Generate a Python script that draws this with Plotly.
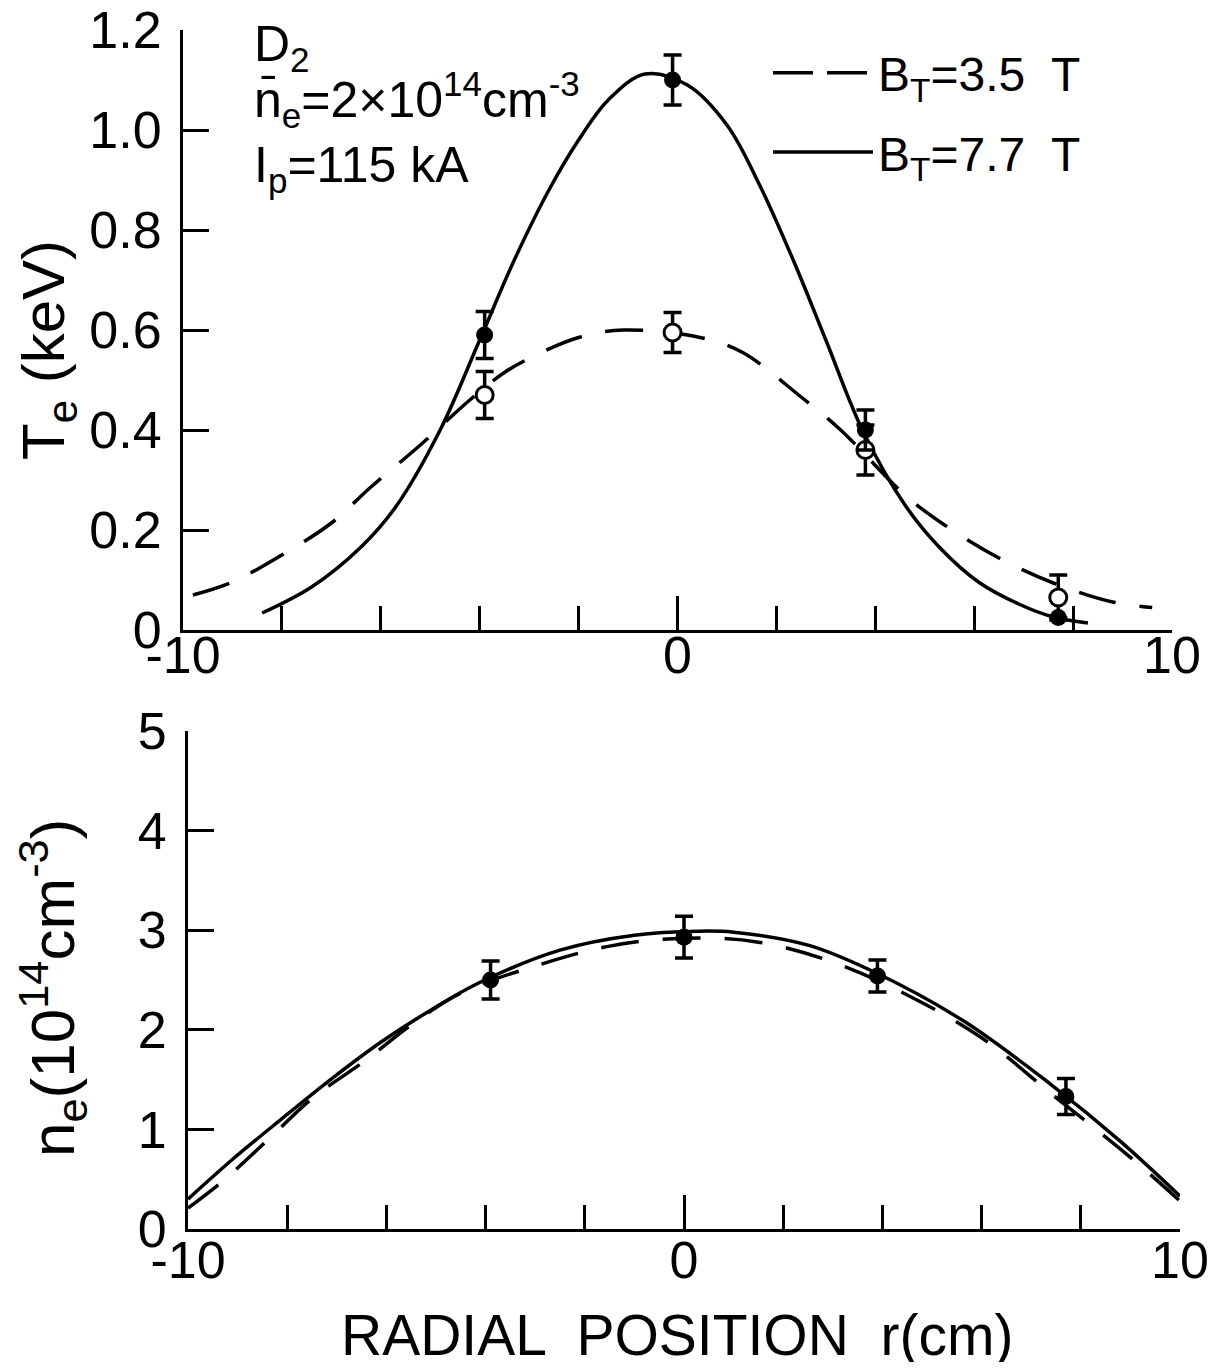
import plotly.graph_objects as go

# ---------------- data ----------------
# Top panel: electron temperature Te (keV)
te_fit_35_r = [-9.8, -9.0, -8.0, -7.0, -6.2, -5.2, -4.2, -3.5, -2.9, -2.0, -1.1, 0.5, 1.3, 2.5, 3.3, 4.6, 5.4, 6.5, 7.6, 8.8, 9.6]
te_fit_35_v = [0.07, 0.096, 0.15, 0.214, 0.286, 0.37, 0.46, 0.515, 0.548, 0.585, 0.60, 0.584, 0.556, 0.466, 0.40, 0.27, 0.21, 0.144, 0.094, 0.056, 0.045]

te_fit_77_r = [-8.4, -7.4, -6.4, -5.7, -4.8, -4.0, -3.3, -2.6, -2.0, -1.4, -0.66, 0.2, 1.0, 1.66, 2.34, 3.0, 3.74, 4.6, 5.3, 6.1, 6.9, 7.6, 8.3]
te_fit_77_v = [0.034, 0.086, 0.166, 0.246, 0.40, 0.58, 0.74, 0.88, 0.98, 1.06, 1.112, 1.09, 1.01, 0.89, 0.74, 0.58, 0.40, 0.25, 0.165, 0.095, 0.052, 0.026, 0.014]

te_pts_r = [-3.9, -0.1, 3.8, 7.7]
te_pts_35 = [0.47, 0.595, 0.36, 0.065]
te_err_35 = [0.047, 0.04, 0.05, 0.045]
te_pts_77 = [0.59, 1.10, 0.40, 0.025]
te_err_77 = [0.047, 0.05, 0.04, 0.0]

# Bottom panel: electron density ne (10^14 cm^-3)
ne_fit_77_r = [-10, -9.1, -8.1, -7.1, -6.1, -5.1, -4.1, -2.5, -1.0, 0.3, 1.0, 2.5, 3.75, 5.6, 7.4, 8.8, 10]
ne_fit_77_v = [0.30, 0.70, 1.11, 1.51, 1.88, 2.2, 2.48, 2.8, 2.95, 2.99, 2.98, 2.85, 2.6, 2.1, 1.45, 0.88, 0.33]

ne_fit_35_r = [-10, -9.3, -8.4, -7.5, -6.4, -5.5, -4.5, -3.0, -1.5, 0.0, 1.5, 3.0, 4.5, 6.0, 7.5, 9.0, 10]
ne_fit_35_v = [0.21, 0.48, 0.89, 1.31, 1.7, 2.05, 2.37, 2.64, 2.84, 2.92, 2.88, 2.68, 2.35, 1.92, 1.32, 0.72, 0.28]

ne_pts_r = [-3.9, 0.0, 3.9, 7.7]
ne_pts_v = [2.5, 2.93, 2.54, 1.33]
ne_err = [0.19, 0.21, 0.16, 0.18]

x_tickvals = [-10, 0, 10]
x_ticktext = ["-10", "0", "10"]
te_tickvals = [0, 0.2, 0.4, 0.6, 0.8, 1.0, 1.2]
te_ticktext = ["0", "0.2", "0.4", "0.6", "0.8", "1.0", "1.2"]
ne_tickvals = [0, 1, 2, 3, 4, 5]
ne_ticktext = ["0", "1", "2", "3", "4", "5"]

# ---------------- figure ----------------
FONT = "Liberation Sans"
OFF = 8                      # page body margin
W, H = 1217 - 2 * OFF, 1370 - 2 * OFF

def PX(x):
    return (x - OFF) / W

def PY(y):
    return 1 - (y - OFF) / H

fig = go.Figure()

dash_style = "38px,24px"
LW = 3.5
MS = 17

# top panel curves
fig.add_trace(go.Scatter(x=te_fit_35_r, y=te_fit_35_v, mode="lines", line=dict(color="black", width=LW, dash=dash_style, shape="spline"),
                         xaxis="x", yaxis="y", showlegend=False, hoverinfo="skip"))
fig.add_trace(go.Scatter(x=te_fit_77_r, y=te_fit_77_v, mode="lines", line=dict(color="black", width=LW, shape="spline"),
                         xaxis="x", yaxis="y", showlegend=False, hoverinfo="skip"))
fig.add_trace(go.Scatter(x=te_pts_r, y=te_pts_35, mode="markers",
                         marker=dict(symbol="circle", size=MS, color="white", line=dict(color="black", width=3)),
                         error_y=dict(type="data", array=te_err_35, color="black", thickness=3.5, width=9),
                         xaxis="x", yaxis="y", showlegend=False))
fig.add_trace(go.Scatter(x=te_pts_r, y=te_pts_77, mode="markers",
                         marker=dict(symbol="circle", size=MS, color="black"),
                         error_y=dict(type="data", array=te_err_77, color="black", thickness=3.5, width=9),
                         xaxis="x", yaxis="y", showlegend=False))

# bottom panel curves
fig.add_trace(go.Scatter(x=ne_fit_35_r, y=ne_fit_35_v, mode="lines", line=dict(color="black", width=LW, dash=dash_style, shape="spline"),
                         xaxis="x2", yaxis="y2", showlegend=False, hoverinfo="skip"))
fig.add_trace(go.Scatter(x=ne_fit_77_r, y=ne_fit_77_v, mode="lines", line=dict(color="black", width=LW, shape="spline"),
                         xaxis="x2", yaxis="y2", showlegend=False, hoverinfo="skip"))
fig.add_trace(go.Scatter(x=ne_pts_r, y=ne_pts_v, mode="markers",
                         marker=dict(symbol="circle", size=MS, color="black"),
                         error_y=dict(type="data", array=ne_err, color="black", thickness=3.5, width=9),
                         xaxis="x2", yaxis="y2", showlegend=False))

# legend entries
fig.add_trace(go.Scatter(x=[None], y=[None], mode="lines", name="B<sub>T</sub>=3.5  T", legendgroup="a",
                         line=dict(color="black", width=LW, dash="40px,14px"), xaxis="x", yaxis="y"))
fig.add_trace(go.Scatter(x=[None], y=[None], mode="lines", name="B<sub>T</sub>=7.7  T", legendgroup="b",
                         line=dict(color="black", width=LW), xaxis="x", yaxis="y"))

def xaxis_style(domain, anchor, standoff):
    return dict(domain=domain, anchor=anchor, range=[-10, 10], showgrid=False, zeroline=False,
                showline=True, linecolor="black", linewidth=3, automargin=False,
                tickmode="array", tickvals=x_tickvals, ticktext=x_ticktext,
                ticks="inside", ticklen=34, tickwidth=3, tickcolor="black",
                minor=dict(ticks="inside", dtick=2, tick0=0, ticklen=24, tickwidth=3, tickcolor="black"),
                tickfont=dict(family=FONT, size=52, color="black"), ticklabelstandoff=standoff,
                ticklabeloverflow="allow")

def yaxis_style(domain, anchor, rng, tv, tt):
    return dict(domain=domain, anchor=anchor, range=rng, showgrid=False, zeroline=False,
                showline=True, linecolor="black", linewidth=3, automargin=False,
                tickmode="array", tickvals=tv, ticktext=tt,
                ticks="inside", ticklen=26, tickwidth=3, tickcolor="black",
                tickfont=dict(family=FONT, size=52, color="black"), ticklabelstandoff=8,
                ticklabeloverflow="allow")

fig.update_layout(
    width=W, height=H, margin=dict(l=0, r=0, t=0, b=0, autoexpand=False),
    paper_bgcolor="white", plot_bgcolor="white",
    xaxis=xaxis_style([PX(183), PX(1172)], "y", -22),
    yaxis=yaxis_style([PY(630), PY(30)], "x", [0, 1.2], te_tickvals, te_ticktext),
    xaxis2=xaxis_style([PX(188), PX(1180)], "y2", -16),
    yaxis2=yaxis_style([PY(1229), PY(731)], "x2", [0, 5], ne_tickvals, ne_ticktext),
    legend=dict(x=PX(768), y=PY(35), xanchor="left", yanchor="top", bgcolor="rgba(0,0,0,0)",
                font=dict(family=FONT, size=48, color="black"), itemwidth=100, tracegroupgap=14),
    showlegend=True,
)

# text annotations
ann_font = dict(family=FONT, size=50, color="black")
fig.add_annotation(x=PX(252), y=PY(48), xref="paper", yref="paper", xanchor="left", yanchor="middle",
                   text="D<sub>2</sub>", showarrow=False, font=ann_font)
fig.add_annotation(x=PX(252), y=PY(100), xref="paper", yref="paper", xanchor="left", yanchor="middle",
                   text="n\u0304<sub>e</sub>=2\u00d710<sup>14</sup>cm<sup>-3</sup>", showarrow=False, font=ann_font)
fig.add_annotation(x=PX(252), y=PY(168), xref="paper", yref="paper", xanchor="left", yanchor="middle",
                   text="I<sub>p</sub>=115 kA", showarrow=False, font=ann_font)

# axis titles
fig.add_annotation(x=PX(48), y=PY(350), xref="paper", yref="paper", textangle=-90,
                   xanchor="center", yanchor="middle",
                   text="T<sub>e</sub> (keV)", showarrow=False, font=dict(family=FONT, size=60, color="black"))
fig.add_annotation(x=PX(52), y=PY(988), xref="paper", yref="paper", textangle=-90,
                   xanchor="center", yanchor="middle",
                   text="n<sub>e</sub>(10<sup>14</sup>cm<sup>-3</sup>)", showarrow=False, font=dict(family=FONT, size=62, color="black"))
fig.add_annotation(x=PX(677), y=PY(1335), xref="paper", yref="paper", xanchor="center", yanchor="middle",
                   text="RADIAL  POSITION  r(cm)", showarrow=False, font=dict(family=FONT, size=57, color="black"))

fig.write_html("out.html")
